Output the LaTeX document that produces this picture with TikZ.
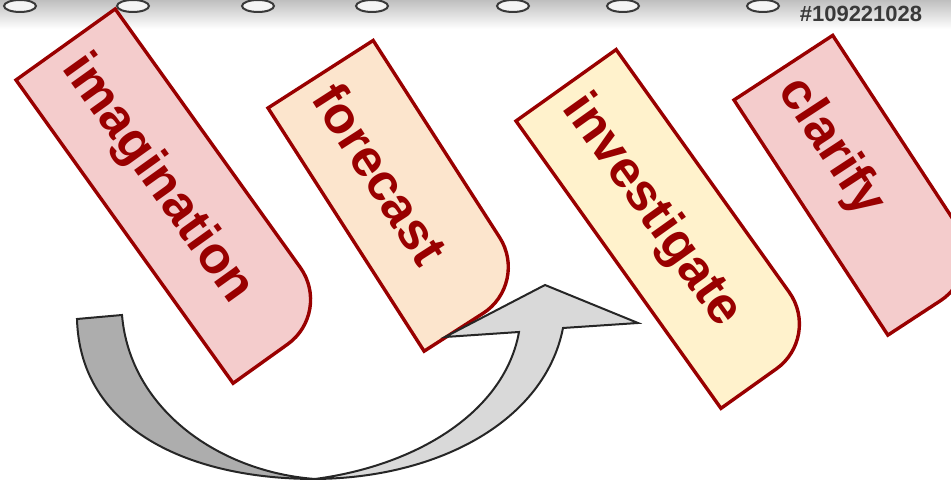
\documentclass[tikz,border=0pt]{standalone}
\usepackage{fontspec}
\setmainfont{Liberation Sans}
\definecolor{tabred}{HTML}{990000}
\definecolor{tabpink}{HTML}{F4CCCC}
\definecolor{tabpeach}{HTML}{FCE5CD}
\definecolor{tabyellow}{HTML}{FFF2CC}
\definecolor{arrowdark}{HTML}{ADADAD}
\definecolor{arrowlight}{HTML}{D9D9D9}
\definecolor{arrowline}{HTML}{262626}
\begin{document}
\begin{tikzpicture}[
  x=1pt, y=1pt,
  tab/.style={draw=tabred, line width=3.4pt, line join=miter},
  tabtext/.style={anchor=west, inner sep=0pt, text=tabred,
                  font=\fontsize{52}{60}\selectfont\bfseries, transform shape},
  band/.style={draw=arrowline, line width=2pt, line join=miter},
  ring/.style={draw=gray!45!black, line width=2pt, fill=gray!8}
]
  \useasboundingbox (0,0) rectangle (951,481);
  \clip (0,0) rectangle (951,481);

  \fill[top color=gray!50, bottom color=white] (0,481) rectangle (951,452);
  \foreach \x in {20,133,258,372,513,623,763}
    \draw[ring] (\x,475) ellipse[x radius=16, y radius=6];
  \node[inner sep=0pt, text=gray!45!black, font=\fontsize{22}{22}\selectfont\bfseries] (mark) at (861,467) {\#109221028};

  \begin{scope}[shift={(16,401)}, rotate=-54.4]
    \draw[tab, fill=tabpink] (0,0) -- (373,0) -- (373,67)
      arc[start angle=0, end angle=90, radius=55] -- (0,122) -- cycle;
    \node[tabtext] (imagination) at (17,57) {imagination};
  \end{scope}
  \begin{scope}[shift={(268,373)}, rotate=-57.3]
    \draw[tab, fill=tabpeach] (0,0) -- (289,0) -- (289,70)
      arc[start angle=0, end angle=90, radius=55] -- (0,125) -- cycle;
    \node[tabtext] (forecast) at (15,59) {forecast};
  \end{scope}

  \draw[band, fill=arrowdark] (77,162) .. controls (80,51) and (190,2) .. (315,2)
    .. controls (220,9) and (130,71) .. (122,166) -- cycle;
  \draw[band, fill=arrowlight] (315,2) .. controls (420,16) and (505,71) .. (519,149)
    -- (445,144) -- (545,196) -- (638,158) -- (563,153)
    .. controls (545,61) and (440,3) .. (315,2) -- cycle;

  \begin{scope}[shift={(516,360)}, rotate=-54.5]
    \draw[tab, fill=tabyellow] (0,0) -- (353,0) -- (353,68)
      arc[start angle=0, end angle=90, radius=55] -- (0,123) -- cycle;
    \node[tabtext] (investigate) at (16,58) {investigate};
  \end{scope}
  \begin{scope}[shift={(734,381)}, rotate=-56.8]
    \draw[tab, fill=tabpink] (0,0) -- (281,0) -- (281,63)
      arc[start angle=0, end angle=90, radius=55] -- (0,118) -- cycle;
    \node[tabtext] (clarify) at (16,55) {clarify};
  \end{scope}
\end{tikzpicture}
\end{document}
